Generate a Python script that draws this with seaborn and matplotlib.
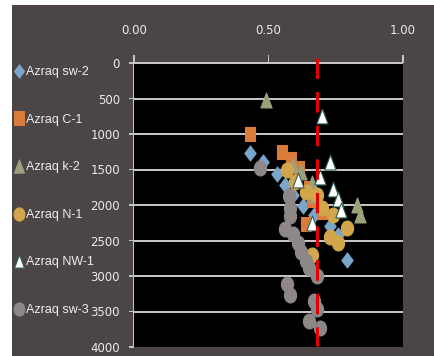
import matplotlib
matplotlib.use("Agg")
import matplotlib.pyplot as plt
import seaborn as sns
import pandas as pd
from matplotlib import font_manager
from matplotlib.path import Path
from matplotlib.patches import Rectangle
from matplotlib.lines import Line2D

# ---- data: normalised value (x) against depth (y) for each well ----
sw2_x = [0.43, 0.48, 0.53, 0.56, 0.59, 0.63, 0.67, 0.73, 0.76, 0.79]
sw2_y = [1270, 1390, 1560, 1720, 1860, 2010, 2140, 2300, 2420, 2770]

c1_x = [0.43, 0.55, 0.585, 0.615, 0.65, 0.66, 0.70, 0.64]
c1_y = [1000, 1250, 1350, 1480, 1760, 1930, 2100, 2270]

k2_x = [0.49, 0.59, 0.62, 0.66, 0.67, 0.83, 0.84]
k2_y = [520, 1440, 1530, 1690, 1860, 2000, 2140]

n1_x = [0.57, 0.60, 0.64, 0.68, 0.70, 0.74, 0.79, 0.73, 0.76, 0.66]
n1_y = [1510, 1680, 1820, 1860, 2040, 2140, 2320, 2450, 2530, 2700]

nw1_x = [0.70, 0.73, 0.69, 0.61, 0.74, 0.76, 0.77, 0.66]
nw1_y = [750, 1400, 1600, 1650, 1780, 1920, 2070, 2250]

sw3_x = [0.47, 0.575, 0.58, 0.58, 0.56, 0.59, 0.61, 0.62, 0.64, 0.65,
         0.68, 0.57, 0.58, 0.67, 0.68, 0.65, 0.69]
sw3_y = [1480, 1870, 2040, 2150, 2340, 2410, 2530, 2660, 2790, 2890,
         3000, 3110, 3270, 3350, 3460, 3630, 3730]

wells = ["Azraq sw-2", "Azraq C-1", "Azraq k-2", "Azraq N-1", "Azraq NW-1", "Azraq sw-3"]
x_ticks = [0.0, 0.5, 1.0]
x_tick_labels = ["0.00", "0.50", "1.00"]
y_ticks = [0, 500, 1000, 1500, 2000, 2500, 3000, 3500, 4000]
threshold_x = 0.68

series = {
    "Azraq sw-2": (sw2_x, sw2_y),
    "Azraq C-1": (c1_x, c1_y),
    "Azraq k-2": (k2_x, k2_y),
    "Azraq N-1": (n1_x, n1_y),
    "Azraq NW-1": (nw1_x, nw1_y),
    "Azraq sw-3": (sw3_x, sw3_y),
}
frames = [pd.DataFrame({"value": xs, "depth": ys, "well": name})
          for name, (xs, ys) in series.items()]
df = pd.concat(frames, ignore_index=True)

# ---- slightly tall marker shapes ----
def tall(verts, sx=0.78):
    return Path([(x * sx, y) for x, y in verts], closed=True)

diamond = tall([(0, 1), (1, 0), (0, -1), (-1, 0), (0, 1)], 0.76)
square = tall([(-1, -1), (1, -1), (1, 1), (-1, 1), (-1, -1)], 0.72)
triangle = tall([(0, 1), (1, -1), (-1, -1), (0, 1)], 0.75)
circ = Path.unit_circle()
ellipse = Path(circ.vertices * [0.82, 1.0], circ.codes)

styles = {
    "Azraq sw-2": dict(marker=diamond, color="#7aa6cc", edge="#7aa6cc"),
    "Azraq C-1": dict(marker=square, color="#dc7a3a", edge="#dc7a3a"),
    "Azraq k-2": dict(marker=triangle, color="#9ba17b", edge="#9ba17b"),
    "Azraq N-1": dict(marker=ellipse, color="#d4a64c", edge="#d4a64c"),
    "Azraq NW-1": dict(marker=triangle, color="#ffffff", edge="#2f5f5a"),
    "Azraq sw-3": dict(marker=ellipse, color="#8e8787", edge="#8e8787"),
}

sns.set_style("dark")
names = {f.name for f in font_manager.fontManager.ttflist}
tick_font = "Liberation Sans Narrow" if "Liberation Sans Narrow" in names else "DejaVu Sans"
tick_size = 11 if tick_font == "Liberation Sans Narrow" else 8.5
plt.rcParams["font.family"] = ["Liberation Sans", "DejaVu Sans"]

line_grey = "#c4c4c4"
W_PX, H_PX = 269.0, 284.0          # plot area size in pixels
DEPTH_PER_PX = 4000.0 / H_PX

fig = plt.figure(figsize=(4.35, 3.56), dpi=100, facecolor="white")

# dark panel behind the chart
bg = fig.add_axes([0, 0, 1, 1], zorder=-1)
bg.set_axis_off()
bg.add_patch(Rectangle((12 / 435, 0), 1, 1 - 5 / 356, transform=bg.transAxes,
                       facecolor="#4b4546", edgecolor="none"))

ax = fig.add_axes([134 / 435, 1 - 347 / 356, W_PX / 435, H_PX / 356])
ax.set_facecolor("black")
ax.grid(False)
ax.set_xlim(0, 1)
ax.set_ylim(4000, 0)

# horizontal depth lines, drawn as thin filled bands
for yv in y_ticks[:-1]:
    ax.axhspan(yv - 1.0 * DEPTH_PER_PX, yv + 1.0 * DEPTH_PER_PX,
               facecolor=line_grey, edgecolor="none", linewidth=0,
               zorder=1, clip_on=(yv != 0))

# left axis line and tick marks as filled bars
ax.add_patch(Rectangle((-1.5 / W_PX, 0), 1.5 / W_PX, 1, transform=ax.transAxes,
                       facecolor=line_grey, edgecolor="none", linewidth=0, clip_on=False))
for yv in y_ticks:
    ax.add_patch(Rectangle((-5 / W_PX, yv - 0.75 * DEPTH_PER_PX), 5 / W_PX,
                           1.5 * DEPTH_PER_PX, transform=ax.get_yaxis_transform(),
                           facecolor=line_grey, edgecolor="none", linewidth=0,
                           clip_on=False))
for xv in x_ticks:
    ax.add_patch(Rectangle((xv - 0.75 / W_PX, 1), 1.5 / W_PX, 8 / H_PX,
                           transform=ax.get_xaxis_transform(),
                           facecolor=line_grey, edgecolor="none", linewidth=0,
                           clip_on=False))

for name in wells:
    st = styles[name]
    sub = df[df["well"] == name]
    sns.scatterplot(data=sub, x="value", y="depth", ax=ax, marker=st["marker"],
                    color=st["color"], edgecolor=st["edge"], linewidth=0.8,
                    s=115, zorder=3, legend=False)

ax.plot([threshold_x, threshold_x], [-70, 3990], color="#e00000", lw=2.2,
        linestyle=(0, (6.7, 4.3)), clip_on=False, zorder=4)

ax.set_xlim(0, 1)
ax.set_ylim(4000, 0)
ax.xaxis.tick_top()
ax.set_xticks(x_ticks)
ax.set_xticklabels(x_tick_labels)
ax.set_yticks(y_ticks)
ax.set_xlabel("")
ax.set_ylabel("")

for side in ["right", "bottom", "top", "left"]:
    ax.spines[side].set_visible(False)

ax.tick_params(axis="x", which="both", top=True, bottom=False, length=0,
               pad=19, labelcolor="#ebebeb", labelsize=tick_size)
ax.tick_params(axis="y", which="both", left=True, length=0,
               pad=10, labelcolor="#ebebeb", labelsize=tick_size)
for lab in ax.get_xticklabels() + ax.get_yticklabels():
    lab.set_fontfamily(tick_font)

handles = [Line2D([], [], linestyle="none", marker=styles[n]["marker"],
                  markerfacecolor=styles[n]["color"], markeredgecolor=styles[n]["edge"],
                  markeredgewidth=0.8, markersize=9.5) for n in wells]
leg = ax.legend(handles, wells, loc="upper left",
                bbox_to_anchor=(14 / 435, 1 - 66 / 356), bbox_transform=fig.transFigure,
                frameon=False, handlelength=0.8, handletextpad=0.2, labelspacing=2.85,
                borderpad=0, borderaxespad=0, fontsize=9)
for t in leg.get_texts():
    t.set_color("#ececf2")

fig.savefig("out.png", dpi=100, facecolor=fig.get_facecolor())
